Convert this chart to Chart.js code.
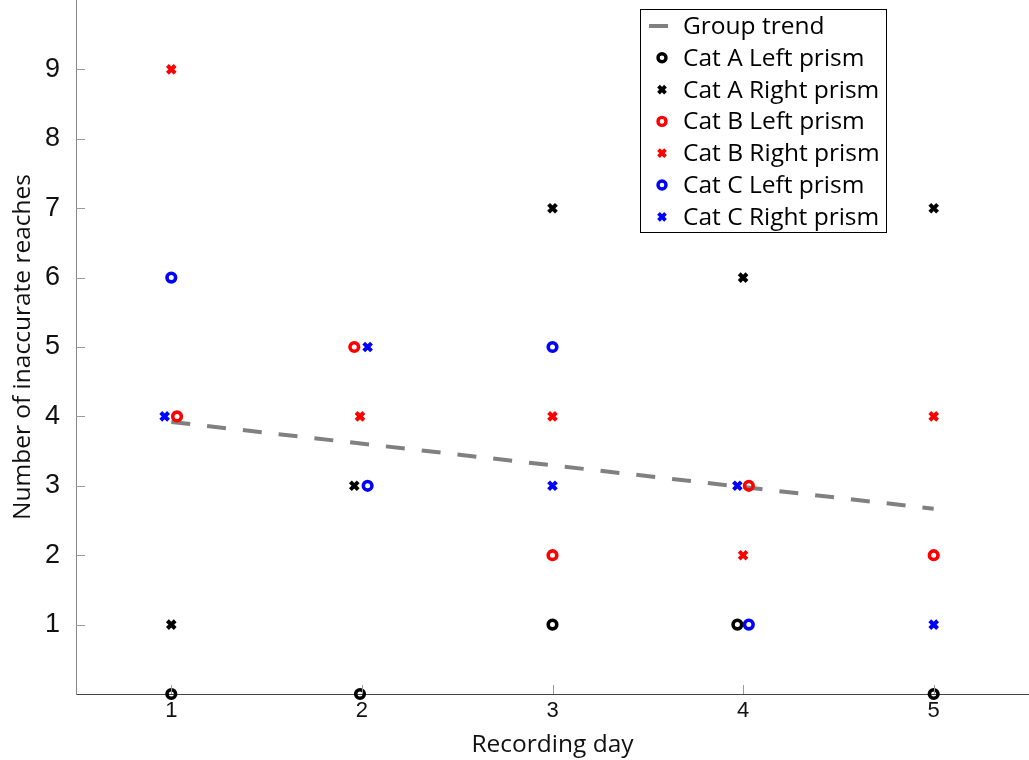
<!DOCTYPE html>
<html>
<head>
<meta charset="utf-8">
<script src="https://cdn.jsdelivr.net/npm/chart.js@4"></script>
<style>
  html, body { margin: 0; padding: 0; background: #fff; }
  #wrap { width: 1029px; height: 760px; }
</style>
</head>
<body>
<div id="wrap"><canvas id="scatterChart" width="1029" height="760"></canvas></div>
<script>
// Dados (x com pequeno deslocamento, como no original)
var seriesLabels = ['Cat A Left prism', 'Cat A Right prism', 'Cat B Left prism',
                    'Cat B Right prism', 'Cat C Left prism', 'Cat C Right prism'];
var seriesColors = ['#000000', '#000000', '#ff0000', '#ff0000', '#0000ff', '#0000ff'];
var seriesShapes = ['circle', 'crossRot', 'circle', 'crossRot', 'circle', 'crossRot'];

var catALeftX  = [1, 1.99, 3, 3.97, 5];
var catALeftY  = [0, 0, 1, 1, 0];
var catARightX = [1, 1.96, 3, 4, 5];
var catARightY = [1, 3, 7, 6, 7];
var catBLeftX  = [1.03, 1.96, 3, 4.03, 5];
var catBLeftY  = [4, 5, 2, 3, 2];
var catBRightX = [1, 1.99, 3, 4, 5];
var catBRightY = [9, 4, 4, 2, 4];
var catCLeftX  = [1, 2.03, 3, 4.03];
var catCLeftY  = [6, 3, 5, 1];
var catCRightX = [0.965, 2.03, 3, 3.97, 5];
var catCRightY = [4, 5, 3, 3, 1];

var trendX = [1, 5];
var trendY = [3.92, 2.67];

var xTicks = [1, 2, 3, 4, 5];
var yTicks = [1, 2, 3, 4, 5, 6, 7, 8, 9];

var allX = [catALeftX, catARightX, catBLeftX, catBRightX, catCLeftX, catCRightX];
var allY = [catALeftY, catARightY, catBLeftY, catBRightY, catCLeftY, catCRightY];

function pares(xs, ys) {
    return xs.map(function (x, i) { return { x: x, y: ys[i] }; });
}

var datasets = [{
    type: 'line',
    label: 'Group trend',
    data: pares(trendX, trendY),
    borderColor: '#808080',
    borderWidth: 4,
    borderDash: [19, 17],
    pointRadius: 0,
    fill: false,
    order: 10
}];

seriesLabels.forEach(function (lab, i) {
    var circulo = seriesShapes[i] === 'circle';
    datasets.push({
        type: 'scatter',
        label: lab,
        data: pares(allX[i], allY[i]),
        pointStyle: seriesShapes[i],
        pointRadius: circulo ? 4.3 : 5.5,
        pointBorderWidth: circulo ? 3.6 : 4,
        borderColor: seriesColors[i],
        backgroundColor: 'rgba(0,0,0,0)',
        pointHoverRadius: 5,
        clip: false,
        order: 6 - i
    });
});

// Ticks para dentro, estilo MATLAB
var ticksDentro = {
    id: 'ticksDentro',
    afterDatasetsDraw: function (chart) {
        var ctx = chart.ctx, xs = chart.scales.x, ys = chart.scales.y, a = chart.chartArea;
        ctx.save();
        ctx.strokeStyle = '#9a9a9a';
        ctx.lineWidth = 1;
        xTicks.forEach(function (v) {
            var px = Math.round(xs.getPixelForValue(v)) + 0.5;
            ctx.beginPath(); ctx.moveTo(px, a.bottom); ctx.lineTo(px, a.bottom - 9); ctx.stroke();
        });
        yTicks.forEach(function (v) {
            var py = Math.round(ys.getPixelForValue(v)) + 0.5;
            ctx.beginPath(); ctx.moveTo(a.left, py); ctx.lineTo(a.left + 9, py); ctx.stroke();
        });
        ctx.restore();
    }
};

// Legenda dentro da área do gráfico
var legendaCaixa = {
    id: 'legendaCaixa',
    afterDraw: function (chart) {
        var ctx = chart.ctx;
        var bx = 640.5, by = 9.5, bw = 246, bh = 223, row = 31.8, y0 = 26;
        ctx.save();
        ctx.fillStyle = '#fff';
        ctx.fillRect(bx, by, bw, bh);
        ctx.strokeStyle = '#000';
        ctx.lineWidth = 1;
        ctx.strokeRect(bx, by, bw, bh);
        ctx.font = '24.5px "Open Sans"';
        ctx.textBaseline = 'middle';
        chart.data.datasets.forEach(function (ds, i) {
            var cy = y0 + i * row, mx = 662;
            ctx.strokeStyle = ds.borderColor;
            if (ds.type === 'line') {
                ctx.lineWidth = 4;
                ctx.beginPath(); ctx.moveTo(mx - 13, cy); ctx.lineTo(mx + 6, cy); ctx.stroke();
            } else if (ds.pointStyle === 'circle') {
                ctx.lineWidth = 3.4;
                ctx.beginPath(); ctx.arc(mx, cy, 4, 0, Math.PI * 2); ctx.stroke();
            } else {
                var r = 3.5;
                ctx.lineWidth = 3.8;
                ctx.beginPath();
                ctx.moveTo(mx - r, cy - r); ctx.lineTo(mx + r, cy + r);
                ctx.moveTo(mx + r, cy - r); ctx.lineTo(mx - r, cy + r);
                ctx.stroke();
            }
            ctx.fillStyle = '#000';
            ctx.fillText(ds.label, 683, cy + 1);
        });
        ctx.restore();
    }
};

var ctx = document.getElementById('scatterChart').getContext('2d');
var myChart = new Chart(ctx, {
    type: 'scatter',
    data: { datasets: datasets },
    options: {
        responsive: false,
        animation: false,
        layout: { padding: 0, autoPadding: false },
        plugins: { legend: { display: false }, tooltip: { enabled: false } },
        scales: {
            x: {
                type: 'linear',
                min: 0.5, max: 5.5,
                afterFit: function (s) { s.height = 66; s.paddingLeft = 0; s.paddingRight = 0; },
                afterBuildTicks: function (s) { s.ticks = xTicks.map(function (v) { return { value: v }; }); },
                ticks: { color: '#111', font: { family: 'Liberation Sans', size: 22 }, padding: 4 },
                grid: { display: false, drawTicks: false },
                border: { display: true, color: '#444', width: 1 },
                title: { display: true, text: 'Recording day', color: '#111',
                         font: { family: 'Open Sans', size: 24.5 }, padding: { top: 5, bottom: 0 } }
            },
            y: {
                type: 'linear',
                min: 0, max: 10,
                afterFit: function (s) { s.width = 76; s.paddingTop = 0; s.paddingBottom = 0; },
                afterBuildTicks: function (s) { s.ticks = yTicks.map(function (v) { return { value: v }; }); },
                ticks: { color: '#111', font: { family: 'Liberation Sans', size: 27 }, padding: 16 },
                grid: { display: false, drawTicks: false },
                border: { display: true, color: '#888', width: 1 },
                title: { display: true, text: 'Number of inaccurate reaches', color: '#111',
                         font: { family: 'Open Sans', size: 24.5 }, padding: { top: 8, bottom: 0 } }
            }
        }
    },
    plugins: [ticksDentro, legendaCaixa]
});
</script>
</body>
</html>
